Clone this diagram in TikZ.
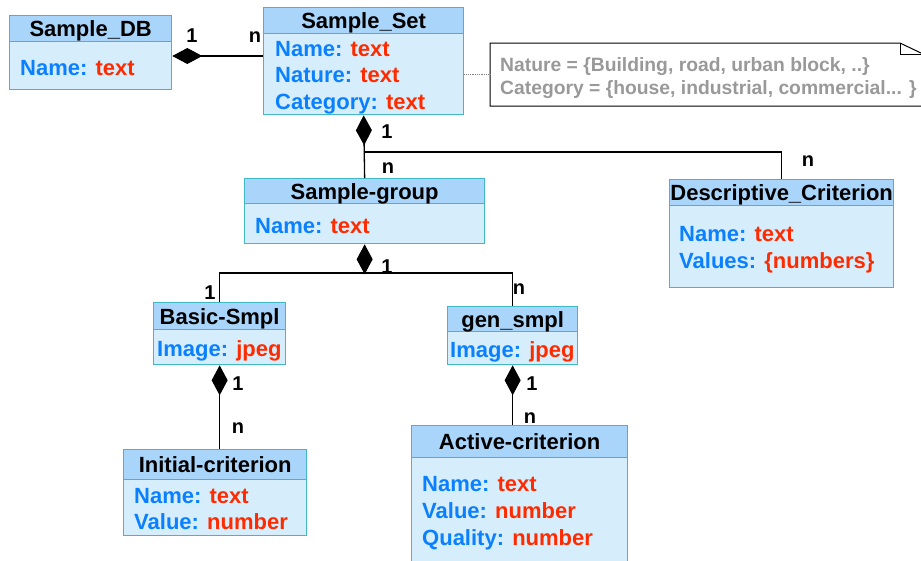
\documentclass[tikz,border=0pt]{standalone}
\usepackage{fontspec}
\setmainfont{Liberation Sans}
\usetikzlibrary{arrows.meta}
\definecolor{hdrc}{HTML}{A9D5FB}
\definecolor{bodyc}{HTML}{D6EEFC}
\definecolor{bordc}{HTML}{40B8C6}
\definecolor{bluec}{HTML}{0A80FF}
\definecolor{redc}{HTML}{FF2B00}
\definecolor{notec}{HTML}{999999}
\begin{document}
\begin{tikzpicture}[x=1pt,y=-1pt,
  hdr/.style={draw=bordc, fill=hdrc, line width=1.3pt, anchor=north west, inner sep=0pt,
    text height=16pt, text depth=0pt, font=\bfseries\fontsize{22}{26}\selectfont, text=black},
  bdy/.style={draw=bordc, fill=bodyc, line width=1.3pt, anchor=north west, inner sep=0pt},
  attr/.style={anchor=base west, inner sep=0pt, font=\bfseries\fontsize{22}{26}\selectfont, text=bluec},
  notet/.style={anchor=base west, inner sep=0pt, font=\bfseries\fontsize{19.3}{23}\selectfont, text=notec},
  conn/.style={line width=1.3pt, draw=black},
  comp/.style={conn, -{Diamond[length=30pt,width=16pt]}},
  lbl/.style={font=\bfseries\fontsize{20}{24}\selectfont, inner sep=0pt, anchor=base}]
\useasboundingbox (0,0) rectangle (921,560);

% ---- Sample_DB
\node[bdy, minimum width=162pt, minimum height=48pt] (dbb) at (9,41) {};
\node[hdr, minimum width=162pt, minimum height=26pt] (dbh) at (9,15) {Sample\_DB};
\node[attr] (dba1) at (20,75) {Name: \textcolor{redc}{text}};

% ---- Sample_Set
\node[bdy, minimum width=200pt, minimum height=81pt] (setb) at (263,33) {};
\node[hdr, minimum width=200pt, minimum height=26pt] (seth) at (263,7) {Sample\_Set};
\node[attr] (seta1) at (275,56) {Name: \textcolor{redc}{text}};
\node[attr] (seta2) at (275,82) {Nature: \textcolor{redc}{text}};
\node[attr] (seta3) at (275,109) {Category: \textcolor{redc}{text}};

% ---- Note
\node[anchor=north west, inner sep=0pt, minimum width=433pt, minimum height=63pt] (note) at (490,43) {};
\draw[line width=1pt, fill=white] (490,43) -- (900,43) -- (923,54) -- (923,106) -- (490,106) -- cycle;
\draw[line width=1pt] (900,43) -- (900,54) -- (923,54);
\node[notet] (nt1) at (500,71) {Nature = \{Building, road, urban block, ..\}};
\node[notet] (nt2) at (500,94.5) {Category = \{house, industrial, commercial... \}};
\draw[densely dotted, line width=0.8pt, draw=gray] (setb.east |- note.west) -- (note.west);

% ---- Sample-group
\node[bdy, minimum width=240pt, minimum height=40pt] (grpb) at (244,203) {};
\node[hdr, minimum width=240pt, minimum height=25pt] (grph) at (244,178) {Sample-group};
\node[attr] (grpa1) at (255,233) {Name: \textcolor{redc}{text}};

% ---- Descriptive_Criterion
\node[bdy, minimum width=224pt, minimum height=82pt] (dscb) at (669,205) {};
\node[hdr, minimum width=224pt, minimum height=26pt] (dsch) at (669,179) {Descriptive\_Criterion};
\node[attr] (dsca1) at (679,241) {Name: \textcolor{redc}{text}};
\node[attr] (dsca2) at (679,268) {Values: \textcolor{redc}{\{numbers\}}};

% ---- Basic-Smpl
\node[bdy, minimum width=132pt, minimum height=35pt] (basb) at (153,329) {};
\node[hdr, minimum width=132pt, minimum height=27pt] (bash) at (153,302) {Basic-Smpl};
\node[attr] (basa1) at (157,356) {Image: \textcolor{redc}{jpeg}};

% ---- gen_smpl
\node[bdy, minimum width=130pt, minimum height=33pt] (genb) at (447,331) {};
\node[hdr, minimum width=130pt, minimum height=25pt] (genh) at (447,306) {gen\_smpl};
\node[attr] (gena1) at (450,357) {Image: \textcolor{redc}{jpeg}};

% ---- Initial-criterion
\node[bdy, minimum width=183pt, minimum height=56pt] (inib) at (123,479) {};
\node[hdr, minimum width=183pt, minimum height=30pt] (inih) at (123,449) {Initial-criterion};
\node[attr] (inia1) at (134,503) {Name: \textcolor{redc}{text}};
\node[attr] (inia2) at (134,529) {Value: \textcolor{redc}{number}};

% ---- Active-criterion
\node[bdy, minimum width=216pt, minimum height=110pt] (actb) at (411,457) {};
\node[hdr, minimum width=216pt, minimum height=32pt] (acth) at (411,425) {Active-criterion};
\node[attr] (acta1) at (422,491) {Name: \textcolor{redc}{text}};
\node[attr] (acta2) at (422,518) {Value: \textcolor{redc}{number}};
\node[attr] (acta3) at (422,545) {Quality: \textcolor{redc}{number}};

% ---- connectors
\coordinate (c1) at (263,56);
\draw[comp] (c1) -- (c1 -| dbb.east);
\node[lbl] (l1) at (192,42) {1};
\node[lbl] (l2) at (255,42) {n};

\coordinate (j1) at (setb.south |- 0,152);
\draw[comp] (grph.north) -- (setb.south);
\draw[conn] (j1) -| (dsch.north);
\node[lbl] (l3) at (387,138) {1};
\node[lbl] (l4) at (388,173) {n};
\node[lbl] (l5) at (808,166) {n};

\coordinate (j2) at (grpb.south |- 0,273);
\draw[comp] (j2) -- (grpb.south);
\draw[conn] (bash.north) |- (j2) -| (genh.north);
\node[lbl] (l6) at (387,273) {1};
\node[lbl] (l7) at (210,299) {1};
\node[lbl] (l8) at (519,294) {n};

\draw[comp] (basb.south |- inih.north) -- (basb.south);
\node[lbl] (l9) at (238,390) {1};
\node[lbl] (l10) at (238,433) {n};

\draw[comp] (genb.south |- acth.north) -- (genb.south);
\node[lbl] (l11) at (532,390) {1};
\node[lbl] (l12) at (530,423) {n};
\end{tikzpicture}
\end{document}
